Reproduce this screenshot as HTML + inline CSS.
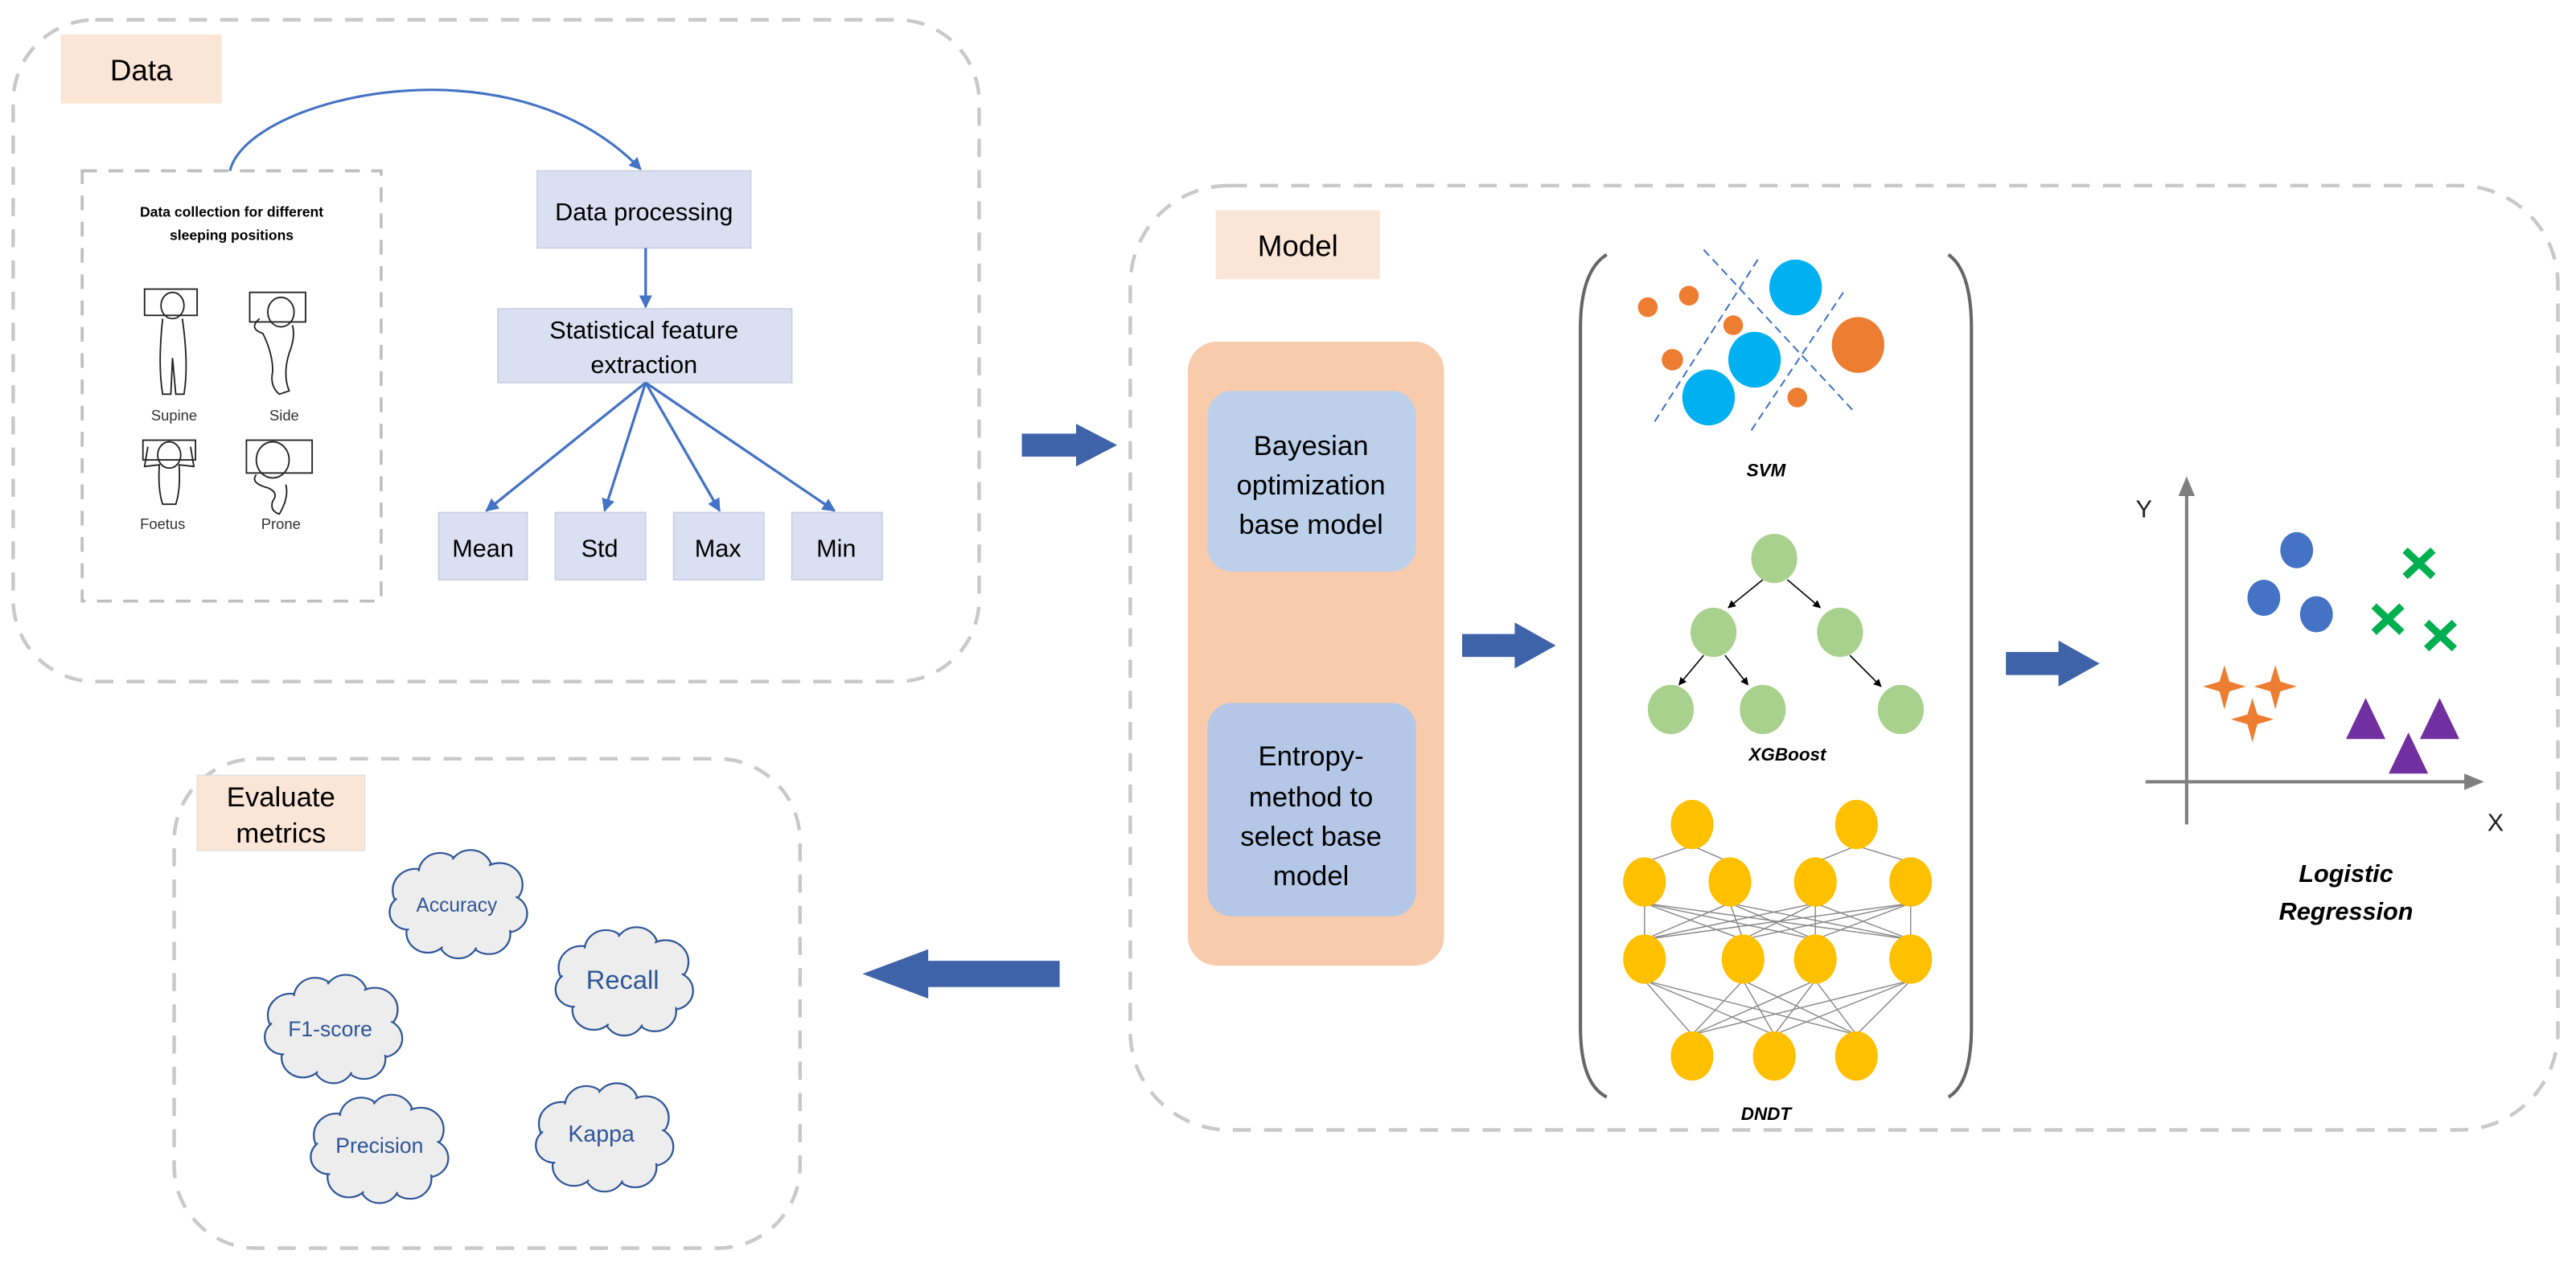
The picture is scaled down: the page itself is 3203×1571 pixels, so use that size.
<!DOCTYPE html>
<html><head><meta charset="utf-8"><style>
html,body{margin:0;padding:0;background:#fff}
svg{display:block}
text{font-family:"Liberation Sans",sans-serif}
</style></head><body>
<svg width="3203" height="1571" viewBox="0 0 1568 769" xmlns="http://www.w3.org/2000/svg">
<defs>
<marker id="ab" viewBox="0 0 10 10" refX="9" refY="5" markerWidth="5" markerHeight="5" orient="auto"><path d="M0,0 L10,5 L0,10 z" fill="#4472c4"/></marker>
<marker id="ak" viewBox="0 0 10 10" refX="9" refY="5" markerWidth="6" markerHeight="6" orient="auto"><path d="M0,0 L10,5 L0,10 z" fill="#000"/></marker>
<g id="cloud">
 <g fill="#ededed" stroke="#2f5597" stroke-width="1.2">
  <circle cx="-28" cy="-10" r="15"/><circle cx="-12" cy="-22" r="14"/><circle cx="8" cy="-24" r="14"/><circle cx="27" cy="-14" r="15"/>
  <circle cx="32" cy="6" r="13"/><circle cx="20" cy="20" r="14"/><circle cx="0" cy="24" r="13"/><circle cx="-20" cy="19" r="14"/><circle cx="-33" cy="5" r="12"/>
 </g>
 <g fill="#ededed"><ellipse cx="0" cy="0" rx="34" ry="24"/><circle cx="-28" cy="-10" r="13.5"/><circle cx="-12" cy="-22" r="12.5"/><circle cx="8" cy="-24" r="12.5"/><circle cx="27" cy="-14" r="13.5"/>
  <circle cx="32" cy="6" r="11.5"/><circle cx="20" cy="20" r="12.5"/><circle cx="0" cy="24" r="11.5"/><circle cx="-20" cy="19" r="12.5"/><circle cx="-33" cy="5" r="10.5"/></g>
</g>
</defs>

<!-- Data panel -->
<rect x="8" y="12" width="588" height="403" rx="50" fill="none" stroke="#c9c9c9" stroke-width="2.2" stroke-dasharray="11,8"/>
<rect x="37" y="21" width="98" height="42" fill="#fbe5d6"/>
<text x="86" y="49" font-size="18" text-anchor="middle">Data</text>
<rect x="50" y="104" width="182" height="262" fill="none" stroke="#bfbfbf" stroke-width="1.8" stroke-dasharray="9,7"/>
<text x="141" y="132" font-size="8.6" font-weight="bold" text-anchor="middle">Data collection for different</text>
<text x="141" y="146" font-size="8.6" font-weight="bold" text-anchor="middle">sleeping positions</text>
<g fill="none" stroke="#222" stroke-width="0.9">
 <rect x="88" y="176" width="32" height="16"/><ellipse cx="105" cy="186" rx="7" ry="8"/><path d="M99,194 Q96,222 99,240 L104,240 L105,218 L107,240 L112,240 Q115,222 111,194"/>
 <rect x="152" y="178" width="34" height="18"/><ellipse cx="171" cy="190" rx="8" ry="9"/><path d="M158,194 Q151,200 160,203 Q166,215 166,226 Q164,235 170,240 L176,238 Q172,228 176,215 Q180,205 178,198"/>
 <rect x="87" y="268" width="32" height="12"/><ellipse cx="103" cy="277" rx="7" ry="8"/><path d="M90,272 L88,284 L97,283 Q96,298 99,307 L107,307 Q110,298 109,283 L118,284 L116,272"/>
 <rect x="150" y="268" width="40" height="20"/><ellipse cx="166" cy="280" rx="10" ry="11"/><path d="M156,289 Q152,294 163,297 Q170,300 166,305 Q164,311 170,313 Q176,303 174,295"/>
</g>
<text x="106" y="256" font-size="9" text-anchor="middle" fill="#333">Supine</text>
<text x="173" y="256" font-size="9" text-anchor="middle" fill="#333">Side</text>
<text x="99" y="322" font-size="9" text-anchor="middle" fill="#333">Foetus</text>
<text x="171" y="322" font-size="9" text-anchor="middle" fill="#333">Prone</text>
<path d="M140,104 C150,60 310,20 390,103" fill="none" stroke="#4472c4" stroke-width="1.5" marker-end="url(#ab)"/>
<g fill="#dae0f2" stroke="#c8cfe0" stroke-width="0.8">
 <rect x="327" y="104" width="130" height="47"/>
 <rect x="303" y="188" width="179" height="45"/>
 <rect x="267" y="312" width="54" height="41"/><rect x="338" y="312" width="55" height="41"/><rect x="410" y="312" width="55" height="41"/><rect x="482" y="312" width="55" height="41"/>
</g>
<text x="392" y="134" font-size="15" text-anchor="middle">Data processing</text>
<text x="392" y="206" font-size="15" text-anchor="middle">Statistical feature</text>
<text x="392" y="227" font-size="15" text-anchor="middle">extraction</text>
<text x="294" y="339" font-size="15" text-anchor="middle">Mean</text>
<text x="365" y="339" font-size="15" text-anchor="middle">Std</text>
<text x="437" y="339" font-size="15" text-anchor="middle">Max</text>
<text x="509" y="339" font-size="15" text-anchor="middle">Min</text>
<g stroke="#4472c4" stroke-width="1.6" fill="none" marker-end="url(#ab)">
 <line x1="393" y1="151" x2="393" y2="187"/>
 <line x1="393" y1="233" x2="296" y2="311"/><line x1="393" y1="233" x2="368" y2="311"/><line x1="393" y1="233" x2="438" y2="311"/><line x1="393" y1="233" x2="508" y2="311"/>
</g>

<!-- arrows -->
<path d="M622,264 L655,264 L655,258 L680,271 L655,284 L655,278 L622,278 z" fill="#3f63a8"/>
<path d="M890,386 L922,386 L922,379 L947,393 L922,407 L922,400 L890,400 z" fill="#3f63a8"/>
<path d="M1221,397 L1253,397 L1253,390 L1278,404 L1253,418 L1253,411 L1221,411 z" fill="#3f63a8"/>
<path d="M525,593 L565,578 L565,585 L645,585 L645,601 L565,601 L565,608 z" fill="#3f63a8"/>

<!-- Model panel -->
<rect x="688" y="113" width="869" height="575" rx="60" fill="none" stroke="#c9c9c9" stroke-width="2.2" stroke-dasharray="11,8"/>
<rect x="740" y="128" width="100" height="42" fill="#fbe5d6"/>
<text x="790" y="156" font-size="18" text-anchor="middle">Model</text>
<rect x="723" y="208" width="156" height="380" rx="18" fill="#f8cbad"/>
<rect x="735" y="238" width="127" height="110" rx="15" fill="#bdd0ea"/>
<rect x="735" y="428" width="127" height="130" rx="15" fill="#b4c7e7"/>
<g font-size="17" text-anchor="middle">
<text x="798" y="277">Bayesian</text><text x="798" y="301">optimization</text><text x="798" y="325">base model</text>
<text x="798" y="466">Entropy-</text><text x="798" y="491">method to</text><text x="798" y="515">select base</text><text x="798" y="539">model</text>
</g>
<path d="M978,155 Q962,165 962,200 L962,625 Q962,660 978,668" fill="none" stroke="#666" stroke-width="2"/>
<path d="M1186,155 Q1200,165 1200,200 L1200,625 Q1200,660 1186,668" fill="none" stroke="#666" stroke-width="2"/>
<!-- SVM -->
<g stroke="#4472c4" stroke-width="1" stroke-dasharray="5,3" fill="none">
<line x1="1037" y1="152" x2="1128" y2="250"/><line x1="1070" y1="158" x2="1007" y2="257"/><line x1="1122" y1="178" x2="1066" y2="262"/>
</g>
<g fill="#ed7d31"><circle cx="1003" cy="187" r="6"/><circle cx="1028" cy="180" r="6"/><circle cx="1055" cy="198" r="6"/><circle cx="1018" cy="219" r="6.5"/><circle cx="1094" cy="242" r="6"/><ellipse cx="1131" cy="210" rx="16" ry="17"/></g>
<g fill="#00b0f0"><ellipse cx="1093" cy="175" rx="16" ry="17"/><ellipse cx="1068" cy="219" rx="16" ry="17"/><ellipse cx="1040" cy="242" rx="16" ry="17"/></g>
<text x="1075" y="290" font-size="11" font-weight="bold" font-style="italic" text-anchor="middle">SVM</text>
<!-- XGBoost -->
<g stroke="#000" stroke-width="0.8" marker-end="url(#ak)">
<line x1="1073" y1="353" x2="1052" y2="370"/><line x1="1088" y1="353" x2="1108" y2="370"/>
<line x1="1037" y1="399" x2="1022" y2="417"/><line x1="1050" y1="399" x2="1064" y2="417"/><line x1="1126" y1="399" x2="1145" y2="418"/>
</g>
<g fill="#a9d18e"><ellipse cx="1080" cy="340" rx="14" ry="15"/><ellipse cx="1043" cy="385" rx="14" ry="15"/><ellipse cx="1120" cy="385" rx="14" ry="15"/><ellipse cx="1017" cy="432" rx="14" ry="15"/><ellipse cx="1073" cy="432" rx="14" ry="15"/><ellipse cx="1157" cy="432" rx="14" ry="15"/></g>
<text x="1088" y="463" font-size="11" font-weight="bold" font-style="italic" text-anchor="middle">XGBoost</text>
<!-- DNDT -->
<g stroke="#888" stroke-width="0.7">
<line x1="1030" y1="515" x2="1001" y2="525"/><line x1="1030" y1="515" x2="1053" y2="525"/><line x1="1130" y1="515" x2="1105" y2="525"/><line x1="1130" y1="515" x2="1163" y2="525"/>
<g>
<line x1="1001" y1="550" x2="1001" y2="572"/><line x1="1001" y1="550" x2="1061" y2="572"/><line x1="1001" y1="550" x2="1105" y2="572"/><line x1="1001" y1="550" x2="1163" y2="572"/>
<line x1="1053" y1="550" x2="1001" y2="572"/><line x1="1053" y1="550" x2="1061" y2="572"/><line x1="1053" y1="550" x2="1105" y2="572"/><line x1="1053" y1="550" x2="1163" y2="572"/>
<line x1="1105" y1="550" x2="1001" y2="572"/><line x1="1105" y1="550" x2="1061" y2="572"/><line x1="1105" y1="550" x2="1105" y2="572"/><line x1="1105" y1="550" x2="1163" y2="572"/>
<line x1="1163" y1="550" x2="1001" y2="572"/><line x1="1163" y1="550" x2="1061" y2="572"/><line x1="1163" y1="550" x2="1105" y2="572"/><line x1="1163" y1="550" x2="1163" y2="572"/>
</g>
<g>
<line x1="1001" y1="597" x2="1030" y2="630"/><line x1="1001" y1="597" x2="1080" y2="630"/><line x1="1001" y1="597" x2="1130" y2="630"/>
<line x1="1061" y1="597" x2="1030" y2="630"/><line x1="1061" y1="597" x2="1080" y2="630"/><line x1="1061" y1="597" x2="1130" y2="630"/>
<line x1="1105" y1="597" x2="1030" y2="630"/><line x1="1105" y1="597" x2="1080" y2="630"/><line x1="1105" y1="597" x2="1130" y2="630"/>
<line x1="1163" y1="597" x2="1030" y2="630"/><line x1="1163" y1="597" x2="1080" y2="630"/><line x1="1163" y1="597" x2="1130" y2="630"/>
</g></g>
<g fill="#ffc000">
<ellipse cx="1030" cy="502" rx="13" ry="15"/><ellipse cx="1130" cy="502" rx="13" ry="15"/>
<ellipse cx="1001" cy="537" rx="13" ry="15"/><ellipse cx="1053" cy="537" rx="13" ry="15"/><ellipse cx="1105" cy="537" rx="13" ry="15"/><ellipse cx="1163" cy="537" rx="13" ry="15"/>
<ellipse cx="1001" cy="584" rx="13" ry="15"/><ellipse cx="1061" cy="584" rx="13" ry="15"/><ellipse cx="1105" cy="584" rx="13" ry="15"/><ellipse cx="1163" cy="584" rx="13" ry="15"/>
<ellipse cx="1030" cy="643" rx="13" ry="15"/><ellipse cx="1080" cy="643" rx="13" ry="15"/><ellipse cx="1130" cy="643" rx="13" ry="15"/>
</g>
<text x="1075" y="682" font-size="11" font-weight="bold" font-style="italic" text-anchor="middle">DNDT</text>
<!-- Logistic -->
<g stroke="#7f7f7f" stroke-width="2"><line x1="1331" y1="502" x2="1331" y2="300"/><line x1="1306" y1="476" x2="1502" y2="476"/></g>
<path d="M1326,302 L1331,290 L1336,302 z" fill="#7f7f7f"/><path d="M1500,471 L1512,476 L1500,481 z" fill="#7f7f7f"/>
<text x="1305" y="315" font-size="15" text-anchor="middle" fill="#222">Y</text>
<text x="1519" y="506" font-size="15" text-anchor="middle" fill="#222">X</text>
<g fill="#4472c4"><ellipse cx="1398" cy="335" rx="10" ry="11"/><ellipse cx="1378" cy="364" rx="10" ry="11"/><ellipse cx="1410" cy="374" rx="10" ry="11"/></g>
<g stroke="#00b050" stroke-width="4.5"><path d="M1464,335 L1481,351 M1481,335 L1464,351"/><path d="M1445,369 L1462,385 M1462,369 L1445,385"/><path d="M1477,379 L1494,395 M1494,379 L1477,395"/></g>
<g fill="#ed7d31">
<path d="M1354,405 L1357,415 L1367,418 L1357,421 L1354,432 L1351,421 L1341,418 L1351,415 z"/>
<path d="M1385,405 L1388,415 L1398,418 L1388,421 L1385,432 L1382,421 L1372,418 L1382,415 z"/>
<path d="M1371,425 L1374,435 L1384,438 L1374,441 L1371,452 L1368,441 L1358,438 L1368,435 z"/>
</g>
<g fill="#7030a0"><path d="M1440,425 L1452,450 L1428,450 z"/><path d="M1485,425 L1497,450 L1473,450 z"/><path d="M1466,446 L1478,471 L1454,471 z"/></g>
<text x="1428" y="537" font-size="15" font-weight="bold" font-style="italic" text-anchor="middle">Logistic</text>
<text x="1428" y="560" font-size="15" font-weight="bold" font-style="italic" text-anchor="middle">Regression</text>

<!-- Evaluate panel -->
<rect x="106" y="462" width="381" height="298" rx="50" fill="none" stroke="#c9c9c9" stroke-width="2.2" stroke-dasharray="11,8"/>
<rect x="120" y="472" width="102" height="46" fill="#fbe5d6" stroke="#ddd" stroke-width="0.6"/>
<text x="171" y="491" font-size="17" text-anchor="middle">Evaluate</text>
<text x="171" y="513" font-size="17" text-anchor="middle">metrics</text>
<use href="#cloud" transform="translate(279,551) scale(0.93,0.88)"/>
<use href="#cloud" transform="translate(380,598) scale(0.93,0.88)"/>
<use href="#cloud" transform="translate(203,627) scale(0.93,0.88)"/>
<use href="#cloud" transform="translate(231,700) scale(0.93,0.88)"/>
<use href="#cloud" transform="translate(368,693) scale(0.93,0.88)"/>
<g fill="#2f5597" text-anchor="middle">
<text x="278" y="555" font-size="12">Accuracy</text>
<text x="379" y="602" font-size="16">Recall</text>
<text x="201" y="631" font-size="13">F1-score</text>
<text x="231" y="702" font-size="13">Precision</text>
<text x="366" y="695" font-size="14">Kappa</text>
</g>
</svg>
</body></html>
